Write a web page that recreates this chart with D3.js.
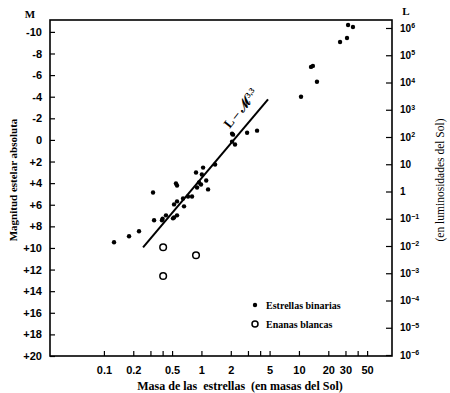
<!DOCTYPE html>
<html>
<head>
<meta charset="utf-8">
<script src="https://cdn.jsdelivr.net/npm/d3@7"></script>
<style>
  body { margin: 0; background: #fff; }
  svg { font-family: "Liberation Serif", "DejaVu Serif", serif; }
  .axis path { display: none; }
  .axis line { stroke: #000; stroke-width: 1.2; }
  .axis text { fill: #000; font-weight: bold; }
</style>
</head>
<body>
<svg id="chart" width="450" height="393"></svg>
<script>
// estrellas binarias: masa (masas solares) y magnitud absoluta
var binMass = [0.127, 0.181, 0.229, 0.319, 0.327, 0.394, 0.40, 0.433, 0.511, 0.524,
  0.562, 0.548, 0.562, 0.524, 0.562, 0.663, 0.648, 0.729, 0.801, 0.902,
  0.88, 0.945, 0.99, 1.04, 1.12, 1.17, 1.38, 1.01, 2.06, 2.11,
  2.06, 2.21, 2.94, 3.72, 10.5, 15.3, 13.3, 13.9, 26.4, 31.1, 31.9, 35.8];
var binMag = [9.47, 8.92, 8.46, 4.86, 7.44, 7.44, 7.3, 6.98, 7.26, 7.17,
  6.98, 4.03, 4.22, 5.97, 5.69, 6.15, 5.42, 5.23, 5.23, 4.40,
  3.02, 3.94, 4.12, 2.56, 3.75, 4.58, 2.28, 3.2, -0.58, -0.49,
  0.16, 0.43, -0.67, -0.86, -3.99, -5.38, -6.76, -6.85, -9.07, -9.44, -10.64, -10.45];

// enanas blancas
var wdMass = [0.405, 0.88, 0.405];
var wdMag = [9.94, 10.67, 12.6];

// recta L ~ M^3.3
var fitMass = [0.252, 4.82];
var fitMag = [9.94, -3.75];
var fitLabelAt = [1.95, -1.0];

var magTicks = [-10, -8, -6, -4, -2, 0, 2, 4, 6, 8, 10, 12, 14, 16, 18, 20];
var lumExp = [6, 5, 4, 3, 2, 1, 0, -1, -2, -3, -4, -5, -6];
var massTicks = [0.1, 0.2, 0.3, 0.4, 0.5, 1, 2, 3, 4, 5, 10, 20, 30, 40, 50];
var massLabels = [0.1, 0.2, 0.5, 1, 2, 5, 10, 20, 30, 50];

var pL = 50, pR = 392, pT = 20, pB = 356;

var svg = d3.select("#chart");

var x = d3.scaleLog().domain([0.028, 90]).range([pL, pR]);
var y = d3.scaleLinear().domain([-11.1, 20]).range([pT, pB]);
var yL = d3.scaleLog().domain([1e-6, 1e6]).range([355, 28]);

/* Marco */
svg.append("rect")
  .attr("x", pL).attr("y", pT)
  .attr("width", pR - pL).attr("height", pB - pT)
  .attr("fill", "none").attr("stroke", "#000").attr("stroke-width", 1.6);

/* Ejes */
var yAxis = d3.axisLeft(y).tickValues(magTicks).tickSize(-5).tickPadding(8)
  .tickFormat(function (d) { return d > 0 ? "+" + d : d < 0 ? "-" + (-d) : "0"; });
svg.append("g").attr("class", "axis").attr("transform", "translate(" + pL + ",0)")
  .call(yAxis).selectAll("text").attr("font-size", 11);

var lAxis = d3.axisRight(yL).tickValues(lumExp.map(function (e) { return Math.pow(10, e); }))
  .tickSize(-6).tickPadding(8).tickFormat("");
var lg = svg.append("g").attr("class", "axis").attr("transform", "translate(" + pR + ",0)")
  .call(lAxis);
lg.selectAll(".tick text").each(function (d, i) {
  var e = lumExp[i];
  var t = d3.select(this).attr("font-size", 10).attr("font-weight", "normal");
  if (e === 0) { t.text("1"); return; }
  if (e === 1) { t.text("10"); return; }
  t.append("tspan").text("10");
  t.append("tspan").attr("dy", "-0.5em").attr("font-size", 7)
    .text(e < 0 ? "\u2212" + (-e) : e);
});

var xAxis = d3.axisBottom(x).tickValues(massTicks).tickSize(-5).tickPadding(10)
  .tickFormat(function (d) { return massLabels.indexOf(d) >= 0 ? d : ""; });
svg.append("g").attr("class", "axis").attr("transform", "translate(0," + pB + ")")
  .call(xAxis).selectAll("text").attr("font-size", 11);

/* Rótulos */
svg.append("text").attr("x", 30).attr("y", 18).attr("text-anchor", "middle")
  .attr("font-size", 11).attr("font-weight", "bold").text("M");
svg.append("text").attr("x", 406).attr("y", 15).attr("text-anchor", "middle")
  .attr("font-size", 11).attr("font-weight", "bold").text("L");

svg.append("text").attr("transform", "translate(17,180) rotate(-90)")
  .attr("text-anchor", "middle").attr("font-size", 11).attr("font-weight", "bold")
  .text("Magnitud estelar absoluta");
svg.append("text").attr("transform", "translate(444,180) rotate(-90)")
  .attr("text-anchor", "middle").attr("font-size", 11.5)
  .text("(en luminosidades del Sol)");
svg.append("text").attr("x", 240).attr("y", 390).attr("text-anchor", "middle")
  .attr("font-size", 12).attr("font-weight", "bold").attr("xml:space", "preserve")
  .text("Masa de las  estrellas  (en masas del Sol)");

/* Recta */
var line = d3.line()
  .x(function (d) { return x(d[0]); })
  .y(function (d) { return y(d[1]); });
svg.append("path")
  .datum(d3.zip(fitMass, fitMag))
  .attr("d", line)
  .attr("fill", "none").attr("stroke", "#000").attr("stroke-width", 2);

var lab = svg.append("text")
  .attr("transform", "translate(" + x(fitLabelAt[0]) + "," + y(fitLabelAt[1]) + ") rotate(-52)")
  .attr("font-size", 13).attr("font-weight", "bold");
lab.append("tspan").text("L \u2013 \u2133");
lab.append("tspan").attr("dy", "-0.5em").attr("font-size", 8).text("3,3");

/* Puntos */
svg.append("g").selectAll("circle")
  .data(d3.zip(binMass, binMag))
  .enter().append("circle")
  .attr("cx", function (d) { return x(d[0]); })
  .attr("cy", function (d) { return y(d[1]); })
  .attr("r", 2.2).attr("fill", "#000");

svg.append("g").selectAll("circle")
  .data(d3.zip(wdMass, wdMag))
  .enter().append("circle")
  .attr("cx", function (d) { return x(d[0]); })
  .attr("cy", function (d) { return y(d[1]); })
  .attr("r", 3.3).attr("fill", "#fff").attr("stroke", "#000").attr("stroke-width", 1.5);

/* Leyenda */
var leg = svg.append("g").attr("transform", "translate(255,305)");
leg.append("circle").attr("r", 2.2).attr("fill", "#000");
leg.append("text").attr("x", 11).attr("y", 3.5).attr("font-size", 10).attr("font-weight", "bold")
  .text("Estrellas binarias");
leg.append("circle").attr("cy", 19).attr("r", 3).attr("fill", "#fff")
  .attr("stroke", "#000").attr("stroke-width", 1.5);
leg.append("text").attr("x", 11).attr("y", 22.5).attr("font-size", 10).attr("font-weight", "bold")
  .text("Enanas blancas");
</script>
</body>
</html>
